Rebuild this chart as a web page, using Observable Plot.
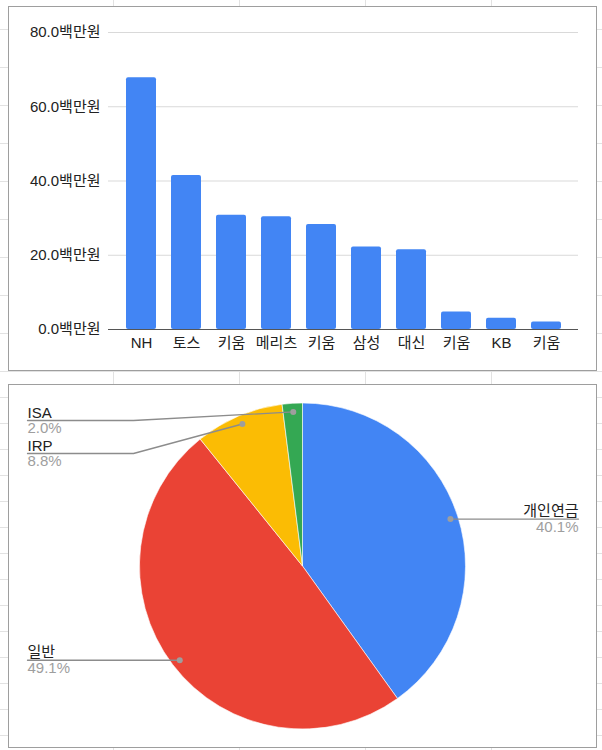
<!DOCTYPE html>
<html><head><meta charset="utf-8">
<script src="https://cdn.jsdelivr.net/npm/d3@7"></script>
<script src="https://cdn.jsdelivr.net/npm/@observablehq/plot@0.6"></script>
<style>
body{margin:0;width:602px;height:750px;position:relative;overflow:hidden;background:#fff;font-family:"Liberation Sans","Noto Sans CJK KR",sans-serif}
.bg{position:absolute;left:0;width:602px}
#bgTop{top:0;height:383px;background-image:linear-gradient(to right,#e2e2e2 1px,transparent 1px),linear-gradient(to bottom,#e2e2e2 1px,transparent 1px);background-size:126px 100%,100% 38px;background-position:113px 0,0 29px}
#bgBot{top:383px;height:367px;background-image:linear-gradient(to right,#e2e2e2 1px,transparent 1px),linear-gradient(to bottom,#e2e2e2 1px,transparent 1px);background-size:126px 100%,100% 26px;background-position:113px 0,0 14px}
.panel{position:absolute;left:8px;width:589px;border:1px solid #9e9e9e;background:#fff;box-sizing:border-box}
.panel svg{display:block}
#top{top:6px;height:365px}
#bot{top:384px;height:364px}
</style>
</head><body>
<div class="bg" id="bgTop"></div>
<div class="bg" id="bgBot"></div>
<div class="panel" id="top"></div>
<div class="panel" id="bot"></div>
<script>
// ---- Bar chart data ----
const brokers = ["NH","토스","키움","메리츠","키움","삼성","대신","키움","KB","키움"];
const amounts = [67.8,41.5,30.8,30.4,28.3,22.2,21.5,4.7,3.0,2.0];
const yTicks = [0,20,40,60,80];

// ---- Pie chart data ----
const segments = ["개인연금","일반","IRP","ISA"];
const shares = [40.1,49.1,8.8,2.0];
const segColors = ["#4285f4","#ea4335","#fbbc04","#34a853"];

const font = '"Liberation Sans","Noto Sans CJK KR",sans-serif';

const bars = brokers.map((name,i)=>({i,name,value:amounts[i]}));
const barChart = Plot.plot({
  width:587,height:363,
  marginTop:25,marginBottom:41,marginLeft:99,marginRight:18,
  style:{fontFamily:font,fontSize:"15px",color:"#222",background:"transparent"},
  x:{domain:d3.range(brokers.length),paddingInner:0.34,paddingOuter:0.17,insetLeft:8,insetRight:8,
     tickFormat:i=>brokers[i],tickSize:0,tickPadding:8,label:null},
  y:{domain:[0,80],ticks:yTicks,tickFormat:d=>d.toFixed(1)+"백만원",tickSize:0,tickPadding:8,label:null},
  marks:[
    Plot.ruleY(yTicks.filter(d=>d>0),{stroke:"#d9d9d9",strokeWidth:1.2}),
    Plot.barY(bars,{x:"i",y:"value",fill:"#4285f4",rx:2}),
    Plot.ruleY([0],{stroke:"#555",strokeWidth:1.2})
  ]
});
document.getElementById("top").append(barChart);

// ---- Pie ----
const W=587,H=362;
const pieCx=293.5,pieCy=181,pieR=163;
const arcs = d3.pie().sort(null).value(d=>d)(shares);
const info = arcs.map((a,i)=>{
  const m=(a.startAngle+a.endAngle)/2;
  return {name:segments[i],share:shares[i],mid:m,
    dx:pieCx+0.95*pieR*Math.sin(m),dy:pieCy-0.95*pieR*Math.cos(m),left:Math.sin(m)<0};
});
// label layout
const labelGap=33, minTop=35, leftX=18, rightX=569, elbowLen=106;
let prev=-Infinity;
info.filter(d=>d.left).sort((a,b)=>a.dy-b.dy).forEach(d=>{
  d.ly=Math.max(d.dy,prev+labelGap,minTop); prev=d.ly;
  d.lx=leftX; d.ex=leftX+elbowLen;
});
prev=-Infinity;
info.filter(d=>!d.left).sort((a,b)=>a.dy-b.dy).forEach(d=>{
  d.ly=Math.max(d.dy,prev+labelGap,minTop); prev=d.ly;
  d.lx=rightX; d.ex=rightX-elbowLen;
});
const leader=[];
info.forEach(d=>{
  leader.push({k:d.name,x:d.lx,y:d.ly});
  leader.push({k:d.name,x:d.ex,y:d.ly});
  leader.push({k:d.name,x:d.dx,y:d.dy});
});
const leftInfo=info.filter(d=>d.left), rightInfo=info.filter(d=>!d.left);

const pieMark=(index,scales)=>{
  const sx=scales&&scales.x?scales.x:(v=>v), sy=scales&&scales.y?scales.y:(v=>v);
  const g=d3.create("svg:g").attr("transform",`translate(${sx(pieCx)},${sy(pieCy)})`);
  const arc=d3.arc().innerRadius(0).outerRadius(pieR);
  g.selectAll("path").data(arcs).join("path")
    .attr("d",arc).attr("fill",(d,i)=>segColors[i])
    .attr("stroke","#fff").attr("stroke-width",0.6);
  return g.node();
};

const nameOpts=(anchor)=>({x:"lx",y:"ly",text:"name",textAnchor:anchor,lineAnchor:"bottom",dy:-3,fill:"#222",fontSize:15});
const pctOpts=(anchor)=>({x:"lx",y:"ly",text:d=>d.share.toFixed(1)+"%",textAnchor:anchor,lineAnchor:"top",dy:2,fill:"#9e9e9e",fontSize:15});

const pieChart = Plot.plot({
  width:W,height:H,margin:0,
  style:{fontFamily:font,fontSize:"15px",background:"transparent"},
  x:{domain:[0,W],range:[0,W],axis:null},
  y:{domain:[0,H],range:[0,H],axis:null},
  marks:[
    pieMark,
    Plot.line(leader,{x:"x",y:"y",z:"k",stroke:"#8c8c8c",strokeWidth:1.3,curve:"linear"}),
    Plot.dot(info,{x:"dx",y:"dy",r:3,fill:"#9e9e9e",stroke:"none"}),
    Plot.text(leftInfo,nameOpts("start")),
    Plot.text(rightInfo,nameOpts("end")),
    Plot.text(leftInfo,pctOpts("start")),
    Plot.text(rightInfo,pctOpts("end"))
  ]
});
document.getElementById("bot").append(pieChart);
</script>
</body></html>
